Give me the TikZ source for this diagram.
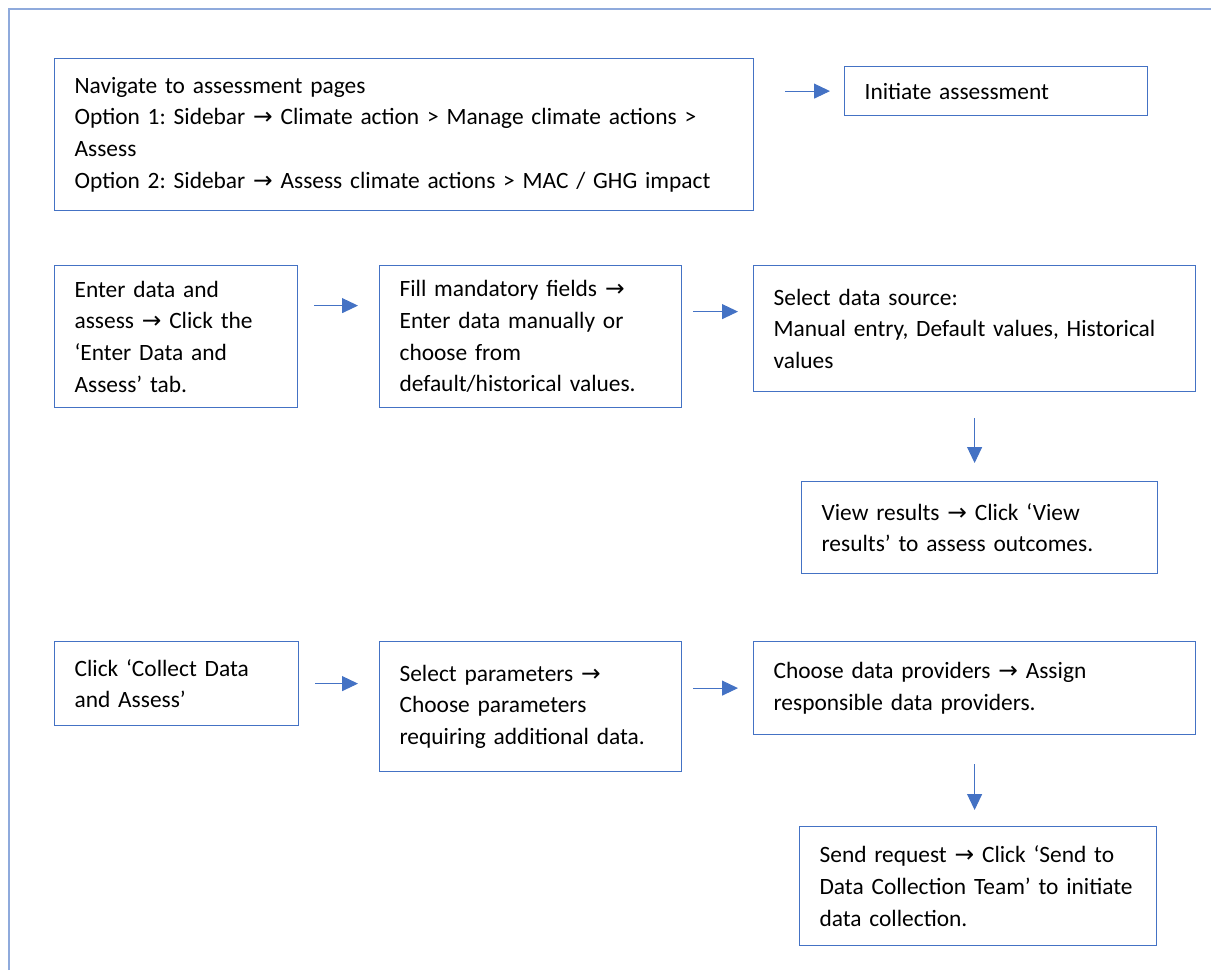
\documentclass[tikz,border=0pt]{standalone}
\usepackage{fontspec}
\setmainfont{Carlito}
\newfontfamily\symfont{DejaVu Sans}
\usepackage{tikz}
\usetikzlibrary{arrows.meta}
\definecolor{bl}{RGB}{68, 114, 196}
\definecolor{fr}{RGB}{143, 170, 220}
\newcommand{\rarr}{{\symfont →}}
\frenchspacing
\hyphenpenalty=10000
\exhyphenpenalty=10000

\begin{document}
\begin{tikzpicture}
		[x=0.5pt, y=-0.5pt, every node/.style={inner xsep=10pt, inner ysep=0pt, anchor=north west, align=left, font=\fontsize{11.7}{15.8}\selectfont},
		box/.style={rectangle, draw=bl, line width=0.6pt},
		arr/.style={line width=0.5pt, color=bl, -{Triangle[length=8pt, width=7.5pt]}}]
		\useasboundingbox (0, 0) rectangle (1211, 970);
		\draw [line width=0.6pt, color=fr] (9, 970) -- (9, 9) -- (1211, 9);
		% first row
		\node (1) [box, text width=329.5pt, minimum height=76pt] at (54, 58) {Navigate to assessment pages\\ Option 1: Sidebar \rarr{} Climate action > Manage climate actions >\\ Assess\\ Option 2: Sidebar \rarr{} Assess climate actions > MAC / GHG impact};
		\node (2) [box, text width=131.5pt, minimum height=24.5pt] at (844, 66) {Initiate assessment};
		% enter data and assess
		\node (3) [box, text width=101.5pt, minimum height=71pt] at (54, 265) {Enter data and\\ assess \rarr{} Click the\\ ‘Enter Data and\\ Assess’ tab.};
		\node (4) [box, text width=131pt, minimum height=71pt] at (379, 265) {Fill mandatory fields \rarr\\ Enter data manually or\\ choose from\\ default/historical values.};
		\node (5) [box, text width=201pt, minimum height=63pt] at (753, 265) {Select data source:\\ Manual entry, Default values, Historical\\ values};
		\node (6) [box, text width=158pt, minimum height=46pt] at (801, 481) {View results \rarr{} Click ‘View\\ results’ to assess outcomes.};
		% collect data and assess
		\node (7) [box, text width=102pt, minimum height=42pt] at (54, 641) {Click ‘Collect Data\\ and Assess’};
		\node (8) [box, text width=131pt, minimum height=65pt] at (379, 641) {Select parameters \rarr\\ Choose parameters\\ requiring additional data.};
		\node (9) [box, text width=201pt, minimum height=46.5pt] at (753, 641) {Choose data providers \rarr{} Assign\\ responsible data providers.};
		\node (10) [box, text width=158.5pt, minimum height=59.5pt] at (799, 826) {Send request \rarr{} Click ‘Send to\\ Data Collection Team’ to initiate\\ data collection.};
		\draw [arr, shorten <=15.5pt, shorten >=7pt] (1.east |- 2.west) to (2.west);
		\draw [arr, shorten <=8pt, shorten >=10.5pt] ([yshift=15.5pt]3.east) to ([yshift=15.5pt]4.west);
		\draw [arr, shorten <=5.5pt, shorten >=7.5pt] ([yshift=12.5pt]4.east) to ([yshift=8.5pt]5.west);
		\draw [arr, shorten <=13pt, shorten >=9pt] (5.south) to (5.south |- 6.north);
		\draw [arr, shorten <=8pt, shorten >=10.5pt] (7.east) to (7.east -| 8.west);
		\draw [arr, shorten <=5.5pt, shorten >=7.5pt] (9.west -| 8.east) to (9.west);
		\draw [arr, shorten <=14.5pt, shorten >=8pt] (9.south) to (9.south |- 10.north);
\end{tikzpicture}
\end{document}
